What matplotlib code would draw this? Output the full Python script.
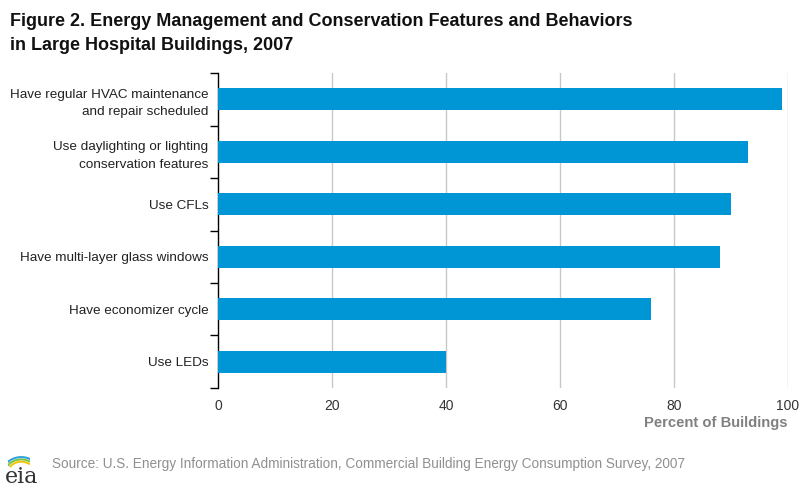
import matplotlib.pyplot as plt
import numpy as np
from matplotlib.ticker import FixedLocator

plt.rcParams['font.family'] = ['Liberation Sans', 'DejaVu Sans']

categories = ['Have regular HVAC maintenance\nand repair scheduled',
              'Use daylighting or lighting\nconservation features',
              'Use CFLs',
              'Have multi-layer glass windows',
              'Have economizer cycle',
              'Use LEDs']
values = [99, 93, 90, 88, 76, 40]
xticks = [0, 20, 40, 60, 80, 100]

fig = plt.figure(figsize=(8, 4.92), dpi=100)
ax = fig.add_axes([0.2725, 0.2114, 0.985 - 0.2725, 0.8516 - 0.2114])

pos = np.arange(len(categories))
ax.barh(pos, values, height=0.42, color='#0096d6', zorder=3)
ax.set_ylim(len(categories) - 0.5, -0.5)
ax.set_xlim(0, 100)

ax.set_xticks(xticks)
ax.set_xticklabels([str(t) for t in xticks], fontsize=10, color='#333333')
ax.tick_params(axis='x', length=0, pad=8)
for t in xticks[1:]:
    ax.axvline(t, color='#c8c8c8', lw=1, zorder=1)

ax.set_yticks(pos)
ax.set_yticklabels(categories, fontsize=9.7, color='#222222', linespacing=1.6)
ax.tick_params(axis='y', which='major', length=0, pad=7)
ax.yaxis.set_minor_locator(FixedLocator(np.arange(len(categories) + 1) - 0.5))
ax.tick_params(axis='y', which='minor', length=6, width=1, color='black')
for lbl in ax.get_yticklabels():
    lbl.set_horizontalalignment('right')
    lbl.set_multialignment('right')

for s in ['top', 'right', 'bottom']:
    ax.spines[s].set_visible(False)
ax.spines['left'].set_linewidth(1)

fig.text(10 / 800, 1 - 22 / 492, 'Figure 2. Energy Management and Conservation Features and Behaviors',
         fontsize=13, fontweight='bold', va='center', ha='left', color='#111111')
fig.text(10 / 800, 1 - 46 / 492, 'in Large Hospital Buildings, 2007',
         fontsize=13, fontweight='bold', va='center', ha='left', color='#111111')

fig.text(788 / 800, 1 - 423 / 492, 'Percent of Buildings', fontsize=10.6, fontweight='bold',
         color='#808080', ha='right', va='center')

fig.text(52 / 800, 1 - 464 / 492,
         'Source: U.S. Energy Information Administration, Commercial Building Energy Consumption Survey, 2007',
         fontsize=9.8, color='#909090', ha='left', va='center')

# eia logo
fig.text(5 / 800, 1 - 477 / 492, 'eia', family='DejaVu Serif', fontsize=16, color='#333333',
         ha='left', va='center')
lax = fig.add_axes([8 / 800, 1 - 470 / 492, 22 / 800, 16 / 492])
lax.set_xlim(0, 1)
lax.set_ylim(0, 1)
lax.axis('off')
th = np.linspace(0.3 * np.pi, 0.8 * np.pi, 30)
for r, c in zip([0.6, 0.72, 0.84], ['#f5c400', '#7cc242', '#2aa0d8']):
    lax.plot(0.6 + r * np.cos(th), -0.2 + r * 1.2 * np.sin(th), color=c, lw=1.4)

fig.savefig('out.png', dpi=100)
